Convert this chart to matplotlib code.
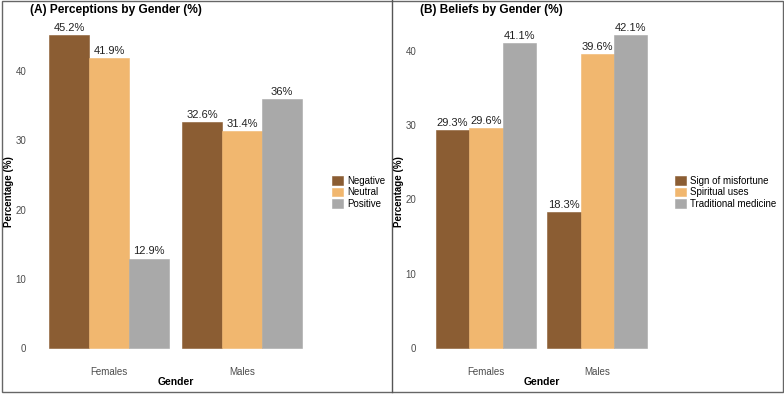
import matplotlib.pyplot as plt
import numpy as np
from matplotlib.patches import Rectangle
from matplotlib.lines import Line2D

plt.rcParams["font.family"] = ["Liberation Sans", "DejaVu Sans"]

genders = ["Females", "Males"]

perception_levels = ["Negative", "Neutral", "Positive"]
perc_negative = [45.2, 32.6]
perc_neutral = [41.9, 31.4]
perc_positive = [12.9, 36.0]

belief_levels = ["Sign of misfortune", "Spiritual uses", "Traditional medicine"]
belief_misfortune = [29.3, 18.3]
belief_spiritual = [29.6, 39.6]
belief_traditional = [41.1, 42.1]

yticks = [0, 10, 20, 30, 40]

COLORS = ["#8B5D33", "#F1B76F", "#A9A9A9"]
TICK_GREY = "#4D4D4D"

W, H = 784, 394
fig = plt.figure(figsize=(W / 100, H / 100), dpi=100)


def px_axes(left, right, top, bottom):
    return fig.add_axes([left / W, 1 - bottom / H, (right - left) / W, (bottom - top) / H])


def grouped_panel(ax, series, levels, title, title_x, ylab_x, legend_xy):
    x = np.arange(1, len(genders) + 1)
    width = 0.3
    offsets = [-width, 0, width]
    bars = []
    for vals, lev, col, off in zip(series, levels, COLORS, offsets):
        b = ax.bar(x + off, vals, width=width, color=col, edgecolor=col,
                   linewidth=0.4, label=lev)
        bars.append(b)
        for xi, v in zip(x + off, vals):
            ax.annotate(f"{v:g}%", (xi, v), xytext=(0, 1.5), textcoords="offset points",
                        ha="center", va="bottom", fontsize=8, color="#222222")
    top = max(max(s) for s in series)
    ax.set_xlim(0.4, 2.6)
    ax.set_ylim(-0.05 * top, 1.05 * top)
    ax.set_xticks(x)
    ax.set_xticklabels(genders, fontsize=7, color=TICK_GREY)
    ax.set_yticks(yticks)
    ax.set_yticklabels([str(t) for t in yticks], fontsize=7, color=TICK_GREY)
    ax.tick_params(length=0, pad=2.2)
    ax.tick_params(axis="x", pad=2.5)
    for s in ax.spines.values():
        s.set_visible(False)
    ax.set_xlabel("Gender", fontsize=7.5, fontweight="bold", labelpad=0.5)

    fig.text(title_x / W, 1 - 10 / H, title, fontsize=8.6, fontweight="bold",
             ha="left", va="center")
    pos = ax.get_position()
    fig.text(ylab_x / W, pos.y0 + pos.height / 2, "Percentage (%)", rotation=90,
             fontsize=7, fontweight="bold", ha="center", va="center")

    lx, ly = legend_xy
    fig.legend(handles=bars, labels=levels, loc="upper left",
               bbox_to_anchor=(lx / W, 1 - ly / H), frameon=False, fontsize=7,
               handlelength=1.13, handleheight=1.0, handletextpad=0.42,
               labelspacing=0.15, borderpad=0, borderaxespad=0)


ax1 = px_axes(29.2, 321.8, 19.8, 363.3)
grouped_panel(ax1, [perc_negative, perc_neutral, perc_positive], perception_levels,
              "(A) Perceptions by Gender (%)", 30, 9.5, (331.7, 176))

ax2 = px_axes(419.2, 664.1, 19.8, 363.3)
grouped_panel(ax2, [belief_misfortune, belief_spiritual, belief_traditional], belief_levels,
              "(B) Beliefs by Gender (%)", 420, 399, (675, 176))

# panel borders
fig.patches.append(Rectangle((1.5 / W, 2.3 / H), 781 / W, 391 / H, transform=fig.transFigure,
                             fill=False, edgecolor="#666666", linewidth=1))
fig.lines.append(Line2D([391.5 / W, 391.5 / W], [2.3 / H, 1], transform=fig.transFigure,
                        color="#555555", linewidth=1))

fig.savefig("out.png", dpi=100)
